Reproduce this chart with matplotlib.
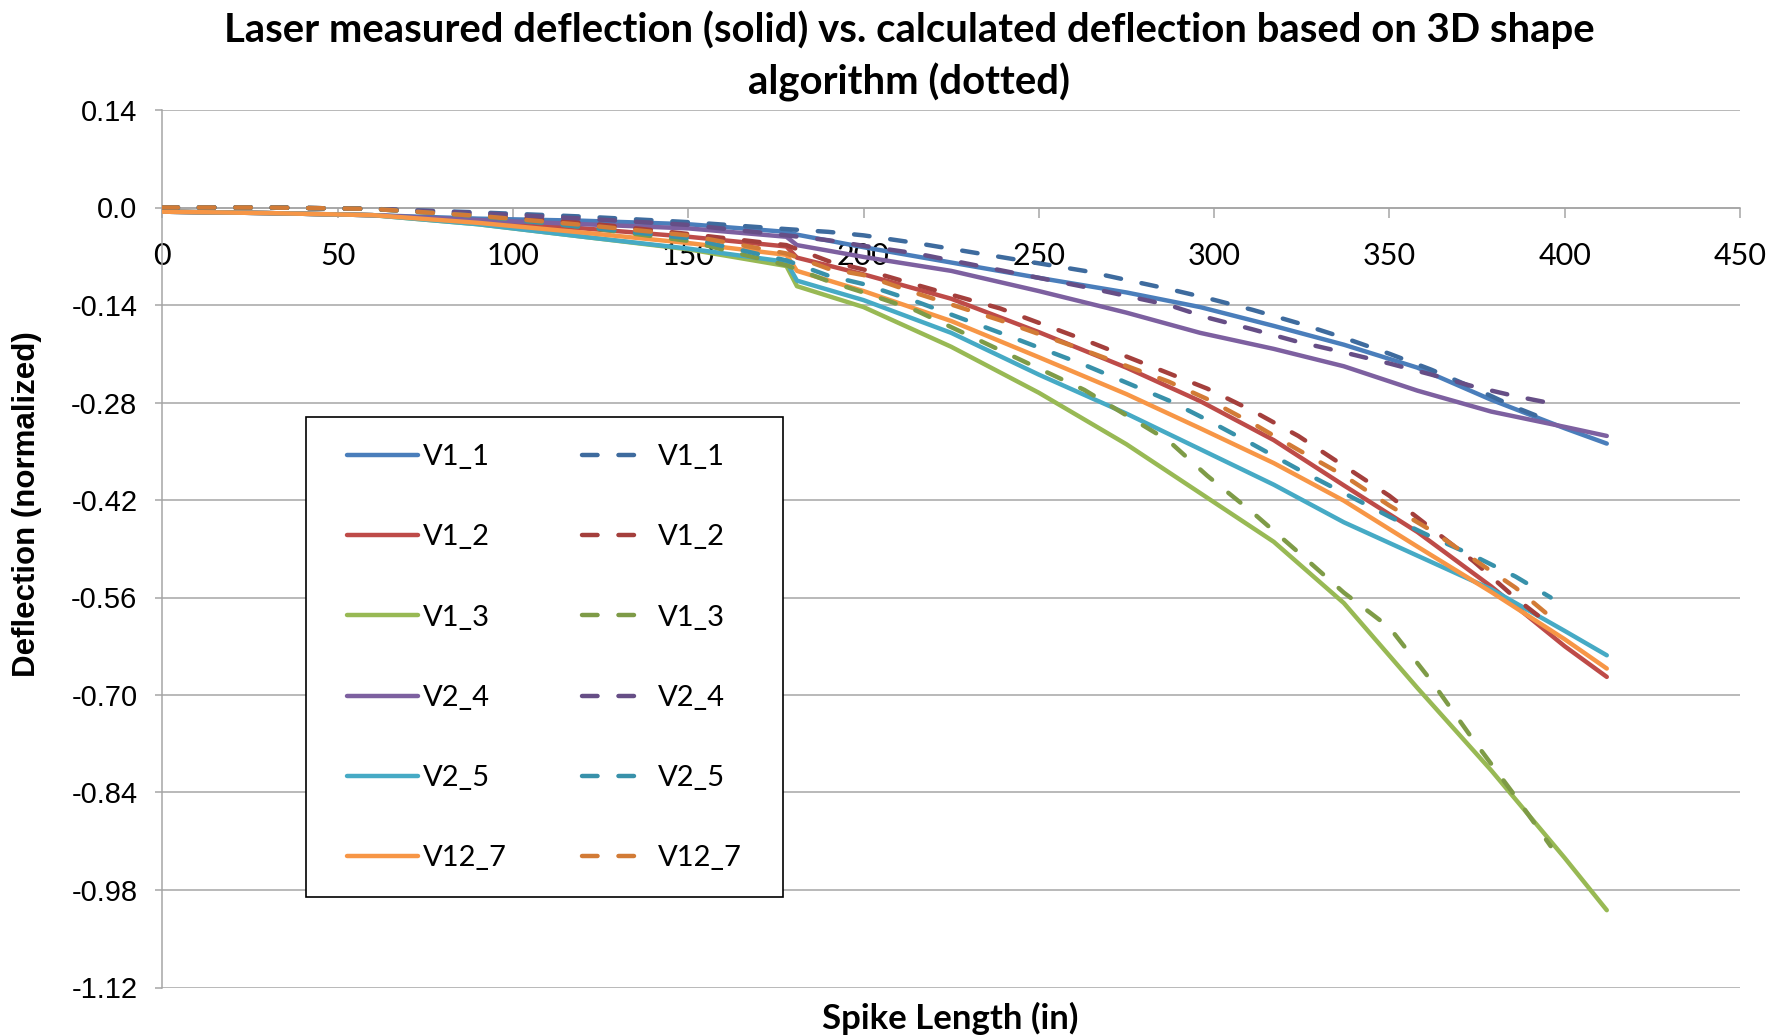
import numpy as np
import matplotlib
matplotlib.use('Agg')
import matplotlib.pyplot as plt
from matplotlib.patches import Rectangle

#series names (same for measured and calculated)
names=['V1_1','V1_2','V1_3','V2_4','V2_5','V12_7']

#laser measured deflection (solid)
solid_x=[0,30,60,90,120,150,178,181,200,225,250,275,296,317,337,358,379,400,412]
solid_v11=[-0.006,-0.008,-0.011,-0.016,-0.019,-0.024,-0.035,-0.039,-0.057,-0.079,-0.101,-0.122,-0.143,-0.170,-0.197,-0.230,-0.276,-0.317,-0.339]
solid_v12=[-0.006,-0.008,-0.011,-0.020,-0.030,-0.042,-0.056,-0.072,-0.096,-0.131,-0.179,-0.230,-0.278,-0.334,-0.399,-0.466,-0.544,-0.630,-0.674]
solid_v13=[-0.006,-0.008,-0.011,-0.024,-0.042,-0.060,-0.084,-0.113,-0.143,-0.200,-0.266,-0.340,-0.410,-0.480,-0.568,-0.690,-0.808,-0.934,-1.009]
solid_v24=[-0.006,-0.008,-0.011,-0.018,-0.024,-0.030,-0.042,-0.054,-0.071,-0.091,-0.120,-0.151,-0.180,-0.203,-0.228,-0.263,-0.293,-0.315,-0.328]
solid_v25=[-0.006,-0.008,-0.011,-0.024,-0.042,-0.059,-0.078,-0.105,-0.133,-0.180,-0.240,-0.296,-0.347,-0.398,-0.452,-0.500,-0.548,-0.608,-0.643]
solid_v127=[-0.006,-0.008,-0.011,-0.022,-0.036,-0.051,-0.068,-0.091,-0.120,-0.163,-0.215,-0.268,-0.317,-0.367,-0.421,-0.487,-0.552,-0.620,-0.662]

#calculated deflection from 3D shape algorithm (dotted)
dash_x=[0,30,60,90,120,150,178,190,200,215,239,263,287,298,311,324,337,350,362,374,386,396]
dash_v11=[0.0,0.0,-0.002,-0.007,-0.013,-0.021,-0.031,-0.035,-0.040,-0.051,-0.071,-0.091,-0.117,-0.130,-0.147,-0.166,-0.187,-0.210,-0.233,-0.259,-0.287,-0.307]
dash_v12=[0.0,0.0,-0.002,-0.010,-0.022,-0.038,-0.054,-0.077,-0.089,-0.111,-0.145,-0.190,-0.238,-0.260,-0.292,-0.328,-0.371,-0.414,-0.461,-0.508,-0.561,-0.600]
dash_v13=[0.0,0.0,-0.002,-0.012,-0.028,-0.048,-0.083,-0.106,-0.122,-0.148,-0.205,-0.262,-0.335,-0.385,-0.438,-0.495,-0.553,-0.603,-0.680,-0.765,-0.846,-0.917]
dash_v24=[0.0,0.0,-0.002,-0.008,-0.016,-0.025,-0.040,-0.047,-0.055,-0.066,-0.090,-0.114,-0.140,-0.158,-0.175,-0.193,-0.208,-0.224,-0.240,-0.257,-0.271,-0.281]
dash_v25=[0.0,0.0,-0.002,-0.012,-0.028,-0.044,-0.076,-0.098,-0.110,-0.135,-0.180,-0.226,-0.277,-0.305,-0.340,-0.376,-0.410,-0.444,-0.473,-0.500,-0.530,-0.560]
dash_v127=[0.0,0.0,-0.002,-0.012,-0.025,-0.040,-0.066,-0.088,-0.097,-0.123,-0.162,-0.205,-0.250,-0.275,-0.310,-0.348,-0.385,-0.428,-0.464,-0.505,-0.546,-0.588]

#axis ticks
xtick_vals=[0,50,100,150,200,250,300,350,400,450]
xtick_labels=['0','50','100','150','200','250','300','350','400','450']
ytick_vals=[0.14,0.0,-0.14,-0.28,-0.42,-0.56,-0.70,-0.84,-0.98,-1.12]
ytick_labels=['0.14','0.0','-0.14','-0.28','-0.42','-0.56','-0.70','-0.84','-0.98','-1.12']

solid_cols=['#4A7EBB','#BE4B48','#98B954','#7D60A0','#46AAC5','#F79646']
dash_cols=['#3E6B9E','#A43F3C','#7E9B47','#664E86','#3891AA','#D27B36']

W,H=1774,1036
fig=plt.figure(figsize=(W/100,H/100),dpi=100)
ax=fig.add_axes([162.4/W,1-987.5/H,(1740-162.4)/W,(987.5-110)/H])

#x axis sits on y=0 (do this first, it resets the ticks)
gcol='#A5A5A5'
for sp in ['top','right']:
    ax.spines[sp].set_visible(False)
ax.spines['bottom'].set_position(('data',0))

lw=3.2
dashes=(3.5,4.7)
solids=[solid_v11,solid_v12,solid_v13,solid_v24,solid_v25,solid_v127]
dashed=[dash_v11,dash_v12,dash_v13,dash_v24,dash_v25,dash_v127]

handles=[]
for ii in range(len(names)):
    ln,=ax.plot(solid_x,solids[ii],color=solid_cols[ii],lw=lw,
                solid_capstyle='round',solid_joinstyle='round',zorder=3)
    handles.append(ln)
for ii in range(len(names)):
    ln,=ax.plot(dash_x,dashed[ii],color=dash_cols[ii],lw=lw,dashes=dashes,
                dash_capstyle='round',dash_joinstyle='round',zorder=3)
    handles.append(ln)

#axes look (excel style)
ax.set_xlim(0,450)
ax.set_ylim(-1.12,0.14)
ax.set_yticks(ytick_vals)
ax.set_yticklabels(ytick_labels,fontsize=21,family='Liberation Sans')
ax.set_xticks(xtick_vals)
ax.set_xticklabels(xtick_labels,fontsize=22,family='Lato')
ax.yaxis.grid(True,color=gcol,lw=1.1,zorder=0)
ax.set_axisbelow(True)
ax.spines['left'].set_color(gcol)
ax.spines['left'].set_linewidth(1.1)
ax.spines['bottom'].set_color(gcol)
ax.spines['bottom'].set_linewidth(1.1)
ax.tick_params(axis='x',direction='out',length=7,width=1.1,color=gcol,pad=18)
ax.tick_params(axis='y',direction='out',length=5,width=1.1,color=gcol,pad=13)

#titles
fig.text(909/W,1-56/H,'Laser measured deflection (solid) vs. calculated deflection based on 3D shape\nalgorithm (dotted)',
         ha='center',va='center',fontsize=28.8,fontweight='bold',family='Lato',linespacing=1.42)
fig.text(27/W,1-504/H,'Deflection (normalized)',rotation=90,ha='center',va='center',
         fontsize=22.5,fontweight='bold',family='Liberation Sans')
fig.text(950/W,1-1018/H,'Spike Length (in)',ha='center',va='center',
         fontsize=25,fontweight='bold',family='Lato')

#legend box drawn by hand, entries by legend
box=Rectangle((306/W,1-897/H),(783-306)/W,(897-417)/H,transform=fig.transFigure,
              facecolor='white',edgecolor='black',lw=1.2,zorder=5,clip_on=False)
ax.add_patch(box)
leg=ax.legend(handles,names+names,ncol=2,loc='upper left',
              bbox_to_anchor=(346.7/W,1-444/H),bbox_transform=fig.transFigure,
              frameon=False,borderpad=0,borderaxespad=0,handlelength=2.43,
              handletextpad=0.17,columnspacing=2.6,labelspacing=1.86,
              prop={'family':'Lato','size':21})
leg.set_zorder(6)

fig.savefig('out.png',dpi=100)
